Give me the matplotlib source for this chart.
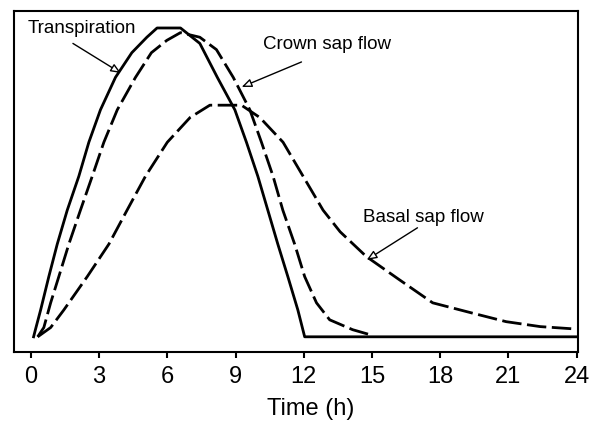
import matplotlib.pyplot as plt

# Values (relative flow, transpiration peak = 1)
transp_t = [0.12, 0.2, 0.43, 0.79, 1.16, 1.6, 2.11, 2.55, 3.06, 3.72, 4.44, 5.1, 5.55, 6.58,
            7.43, 8.2, 8.97, 9.48, 9.98, 10.42, 10.86, 11.3, 11.74, 12.04, 24.0]
transp_y = [0.0, 0.023, 0.087, 0.195, 0.30, 0.41, 0.52, 0.63, 0.735, 0.84, 0.92, 0.97, 1.0, 1.0,
            0.95, 0.84, 0.735, 0.63, 0.52, 0.41, 0.30, 0.195, 0.087, 0.0, 0.0]

crown_t = [0.3, 0.57, 0.87, 1.23, 1.67, 2.18, 2.7, 3.21, 3.8, 4.6, 5.3, 5.98, 6.58, 7.43, 8.16,
           8.9, 9.63, 10.14, 10.65, 11.08, 11.6, 12.04, 12.56, 13.14, 14.15, 15.0]
crown_y = [0.0, 0.03, 0.11, 0.195, 0.30, 0.41, 0.52, 0.63, 0.735, 0.84, 0.92, 0.96, 0.985, 0.97,
           0.93, 0.84, 0.735, 0.63, 0.52, 0.41, 0.30, 0.195, 0.11, 0.055, 0.023, 0.005]

basal_t = [0.3, 0.87, 1.45, 2.48, 3.43, 4.23, 5.04, 6.0, 7.0, 7.87, 9.26, 10.07, 11.09, 11.97,
           12.85, 13.6, 14.75, 16.2, 17.67, 19.4, 20.9, 22.4, 23.8, 24.0]
basal_y = [0.0, 0.03, 0.087, 0.195, 0.30, 0.41, 0.52, 0.63, 0.71, 0.75, 0.75, 0.71, 0.63, 0.52,
           0.41, 0.34, 0.26, 0.185, 0.11, 0.077, 0.049, 0.033, 0.026, 0.026]

xticks = [0, 3, 6, 9, 12, 15, 18, 21, 24]

plt.rcParams['font.family'] = ['Liberation Sans', 'DejaVu Sans']

fig = plt.figure(figsize=(6.0, 4.23), dpi=100)
ax = fig.add_axes([0.023, 0.168, 0.94, 0.806])

ax.plot(transp_t, transp_y, color='black', lw=2.0)
ax.plot(crown_t, crown_y, color='black', lw=2.0, dashes=(7, 2))
ax.plot(basal_t, basal_y, color='black', lw=2.0, dashes=(7, 2))

ax.set_xlim(-0.75, 24.05)
ax.set_ylim(-0.049, 1.055)
ax.set_xticks(xticks)
ax.set_yticks([])
ax.tick_params(axis='x', direction='out', length=4, width=1.5, pad=6, labelsize=17)
for s in ax.spines.values():
    s.set_linewidth(1.5)
ax.set_xlabel('Time (h)', fontsize=17)
ax.xaxis.set_label_coords(0.527, -0.135)

# labels with arrows
arrow = dict(arrowstyle='-|>,head_length=0.6,head_width=0.25', color='black', lw=1.0,
             fc='white', shrinkA=0, shrinkB=0)
ax.text(-0.13, 0.997, 'Transpiration', fontsize=13.5, va='center', ha='left')
ax.annotate('', xy=(3.96, 0.854), xytext=(1.85, 0.95), arrowprops=arrow)
ax.text(10.2, 0.945, 'Crown sap flow', fontsize=13.5, va='center', ha='left')
ax.annotate('', xy=(9.27, 0.809), xytext=(11.9, 0.89), arrowprops=arrow)
ax.text(14.6, 0.385, 'Basal sap flow', fontsize=13.5, va='center', ha='left')
ax.annotate('', xy=(14.77, 0.249), xytext=(17.0, 0.353), arrowprops=arrow)

plt.savefig('out.png', dpi=100)
